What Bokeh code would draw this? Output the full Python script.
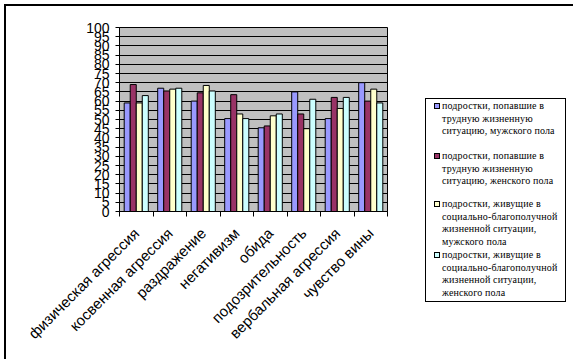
from bokeh.plotting import figure
from bokeh.layouts import row
from bokeh.models import ColumnDataSource, FixedTicker, Div
from bokeh.embed import file_html
from bokeh.resources import INLINE

categories = ["физическая агрессия", "косвенная агрессия", "раздражение", "негативизм",
              "обида", "подозрительность", "вербальная агрессия", "чувство вины"]
series_names = [
    "подростки, попавшие в\nтрудную жизненную\nситуацию, мужского пола",
    "подростки, попавшие в\nтрудную жизненную\nситуацию, женского пола",
    "подростки, живущие в\nсоциально-благополучной\nжизненной ситуации,\nмужского пола",
    "подростки, живущие в\nсоциально-благополучной\nжизненной ситуации,\nженского пола",
]
hard_male = [59, 67, 60, 50.5, 45.5, 65, 50.5, 70]
hard_female = [69, 65.5, 64.5, 63.5, 46.5, 53, 62, 60]
good_male = [59, 66.5, 68.5, 53, 52, 45, 56, 66.5]
good_female = [63, 67, 65.5, 50.5, 53, 61, 62, 59]
y_ticks = list(range(0, 101, 5))

series = [hard_male, hard_female, good_male, good_female]
colors = ["#9999FF", "#993366", "#FFFFCC", "#CCFFFF"]
offsets = [-0.27, -0.09, 0.09, 0.27]
bar_w = 0.18

H = 344
p = figure(width=389, height=H, output_backend="svg", toolbar_location=None,
           x_range=(0, len(categories)), y_range=(0, 100),
           min_border_left=113, min_border_right=8, min_border_top=21, min_border_bottom=138)
p.background_fill_color = "#C0C0C0"
p.border_fill_color = "white"
p.outline_line_color = "black"
p.outline_line_width = 1

centers = [i + 0.5 for i in range(len(categories))]
for vals, col, off in zip(series, colors, offsets):
    src = ColumnDataSource(dict(x=[c + off for c in centers], top=vals))
    p.vbar(x="x", top="top", bottom=0, width=bar_w, source=src,
           fill_color=col, line_color="black", line_width=1)

# y axis
p.yaxis.ticker = FixedTicker(ticks=y_ticks)
p.yaxis.major_label_text_font = "Liberation Sans"
p.yaxis.major_label_text_font_size = "14px"
p.yaxis.major_label_text_color = "black"
p.yaxis.major_tick_in = 0
p.yaxis.major_tick_out = 4
p.yaxis.minor_tick_line_color = None
p.yaxis.axis_line_color = "black"
p.yaxis.major_label_standoff = 6

# x axis: labels at category centres, ticks at category boundaries
p.xaxis.ticker = FixedTicker(ticks=centers, minor_ticks=list(range(len(categories) + 1)))
p.xaxis.major_label_overrides = {c: cat for c, cat in zip(centers, categories)}
p.xaxis.major_label_orientation = 0.785398
p.xaxis.major_label_text_font = "Liberation Sans"
p.xaxis.major_label_text_font_size = "15px"
p.xaxis.major_label_text_color = "black"
p.xaxis.major_tick_in = 0
p.xaxis.major_tick_out = 0
p.xaxis.minor_tick_in = 0
p.xaxis.minor_tick_out = 5
p.xaxis.minor_tick_line_color = "black"
p.xaxis.axis_line_color = "black"
p.xaxis.major_label_standoff = 14

p.xgrid.grid_line_color = None
p.ygrid.grid_line_color = "black"
p.ygrid.grid_line_alpha = 1

# legend (HTML box to the right of the plot)
entry_tops = [7, 57, 105, 156]
parts = []
for col, name, top in zip(colors, series_names, entry_tops):
    parts.append(
        f'<div style="position:absolute;left:8px;top:{top - 3}px;width:6px;height:6px;'
        f'background:{col};border:1px solid black;box-sizing:border-box;"></div>'
        f'<div style="position:absolute;left:16px;top:{top - 6}px;white-space:nowrap;">'
        + name.replace("\n", "<br>") + '</div>'
    )
legend_html = (
    f'<div style="position:relative;width:170px;height:{H}px;">'
    '<div style="position:absolute;left:25px;top:87px;width:141px;height:204px;'
    'border:1px solid black;box-sizing:border-box;background:white;'
    'font-family:\'Liberation Serif\';font-size:10px;line-height:12.7px;'
    'letter-spacing:0.15px;color:black;">'
    + "".join(parts) + '</div></div>'
)
leg = Div(text=legend_html, width=170, height=H)

layout = row(p, leg)
layout.styles = {"border": "2px solid black", "margin": "4px", "background": "white"}

open("out.html", "w").write(file_html(layout, INLINE))
